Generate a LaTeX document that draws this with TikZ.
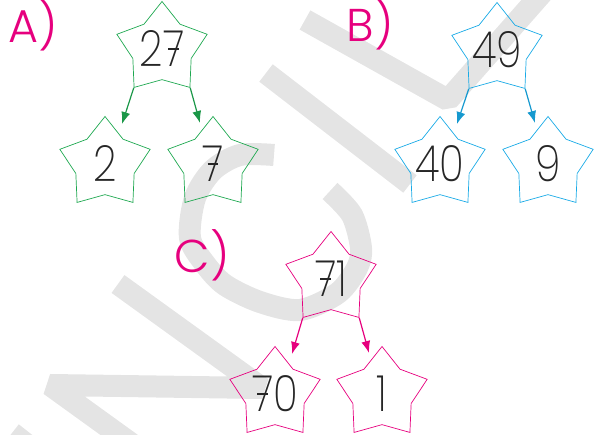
\documentclass[tikz,border=0pt]{standalone}
\usepackage{fontspec}
\setmainfont{Poppins ExtraLight}
\newfontfamily\lblfont{Poppins Light}
\usetikzlibrary{shapes.geometric,arrows.meta}
\definecolor{stargreen}{RGB}{30,168,80}
\definecolor{starblue}{RGB}{25,170,230}
\definecolor{starpink}{RGB}{230,0,126}
\definecolor{wmgray}{RGB}{228,228,228}
% crossed seven and digits set inside the star
\newcommand\sev{\ooalign{7\cr\hfil\rule[.32em]{.26em}{.04em}\hfil\cr}}
\newcommand\starnum[1]{\makebox[0pt]{\smash{\raisebox{-.35em}{\scalebox{.82}[1]{#1}}}}}
\tikzset{%
  starbase/.style={star,star points=5,star point ratio=1.55,minimum size=95pt,inner sep=0pt,line width=0.7pt,
    text=black!85,font=\fontsize{50}{50}\selectfont},
  stara/.style={starbase,draw=stargreen},
  starb/.style={starbase,draw=starblue},
  starc/.style={starbase,draw=starpink},
  arra/.style={-{Latex[length=12pt,width=9pt]},line width=1.2pt,stargreen!90!black},
  arrb/.style={-{Latex[length=12pt,width=9pt]},line width=1.2pt,starblue!90!black},
  arrc/.style={-{Latex[length=12pt,width=9pt]},line width=1.2pt,starpink},
  lbl/.style={text=starpink,font=\lblfont\fontsize{46}{46}\selectfont,inner sep=0pt},
  wm/.style={line width=22pt,wmgray,line join=bevel}%
}
\begin{document}
\begin{tikzpicture}[x=1pt,y=1pt]
  \useasboundingbox (0,0) rectangle (604,435);

  % watermark letters
  \draw[wm] (305,415) -- (448,335) -- (543,443);
  \draw[wm] (266,362) -- (410,251);
  \draw[wm] (118,151) -- (262,47) -- (50,50) -- (140,-15);
  \draw[wm] (12,2) -- (40,-20);
  \draw[wm] plot[smooth] coordinates {(274,280) (240,280) (213,265) (195,237) (190,197)
    (205,171) (225,150) (260,133) (300,125) (338,142) (357,167) (361,187) (352,220) (330,244)};

  % A)
  \node (lblA) [lbl] at (33,410) {A)};
  \node (a27) [stara] at (162,386) {\starnum{2\sev}};
  \node (a2)  [stara] at (105,271) {\starnum{2}};
  \node (a7)  [stara] at (213,271) {\starnum{\sev}};
  \draw[arra] (a27.outer point 3) -- ([shift={(17,40)}]a2.center);
  \draw[arra] (a27.outer point 4) -- ([shift={(-13,41)}]a7.center);

  % B)
  \node (lblB) [lbl] at (370,411) {B)};
  \node (b49) [starb] at (497,385) {\starnum{49}};
  \node (b40) [starb] at (440,271) {\starnum{40}};
  \node (b9)  [starb] at (548,271) {\starnum{9}};
  \draw[arrb] (b49.outer point 3) -- ([shift={(17,40)}]b40.center);
  \draw[arrb] (b49.outer point 4) -- ([shift={(-13,41)}]b9.center);

  % C)
  \node (lblC) [lbl] at (202,180) {C)};
  \node (c71) [starc] at (331,156) {\starnum{\sev1}};
  \node (c70) [starc] at (275,41)  {\starnum{\sev0}};
  \node (c1)  [starc] at (382,41)  {\starnum{1}};
  \draw[arrc] (c71.outer point 3) -- ([shift={(17,40)}]c70.center);
  \draw[arrc] (c71.outer point 4) -- ([shift={(-13,41)}]c1.center);
\end{tikzpicture}
\end{document}
